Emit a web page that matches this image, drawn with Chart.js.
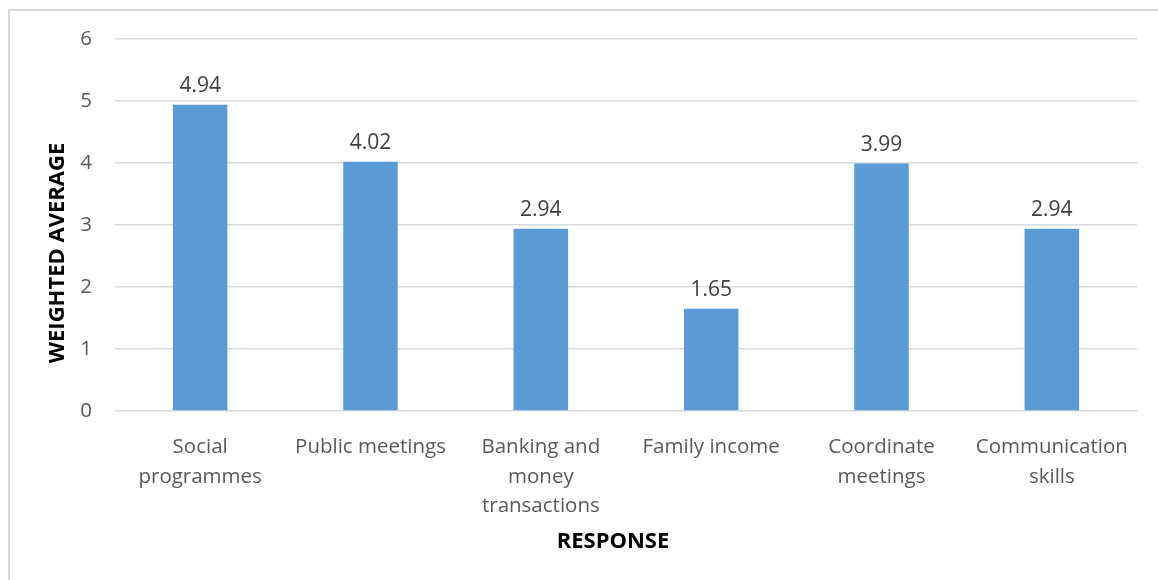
<!DOCTYPE html>
<html lang="en">
  <head>
    <meta charset="utf-8">
    <title>Weighted average by response</title>
    <style>
      html, body { margin: 0; padding: 0; background: #fff; overflow: hidden; }
      #frame { position: absolute; left: 8px; top: 9px; width: 1200px; height: 620px; border: 2px solid #d9d9d9; }
      #wrap { position: absolute; left: 0; top: 0; width: 1158px; height: 580px; }
    </style>
  </head>
  <body>
    <div id="frame"></div>
    <div id="wrap"><canvas id="myChart" width="1158" height="580"></canvas></div>

    <script src="https://cdn.jsdelivr.net/npm/chart.js@4.4.0/dist/chart.umd.min.js"></script>
    <script>
      const categories = [
        ['Social', 'programmes'],
        ['Public meetings'],
        ['Banking and', 'money', 'transactions'],
        ['Family income'],
        ['Coordinate', 'meetings'],
        ['Communication', 'skills']
      ];
      const weightedAverage = [4.94, 4.02, 2.94, 1.65, 3.99, 2.94];
      const yTicks = [0, 1, 2, 3, 4, 5, 6];
      const xTitle = 'RESPONSE';
      const yTitle = 'WEIGHTED AVERAGE';

      // value labels over each bar
      const barValues = {
        id: 'barValues',
        afterDatasetsDraw(chart) {
          const ctx = chart.ctx;
          ctx.save();
          ctx.font = '21px "Open Sans"';
          ctx.fillStyle = '#404040';
          ctx.textAlign = 'center';
          ctx.textBaseline = 'alphabetic';
          chart.getDatasetMeta(0).data.forEach((bar, i) => {
            ctx.fillText(weightedAverage[i].toFixed(2), bar.x, bar.y - 13);
          });
          ctx.restore();
        }
      };

      // axis titles, drawn by hand so they can sit where the old chart had them
      const axisTitles = {
        id: 'axisTitles',
        afterDraw(chart) {
          const ctx = chart.ctx;
          ctx.save();
          ctx.font = 'bold 22px "Open Sans"';
          ctx.fillStyle = '#000';
          ctx.textAlign = 'center';
          ctx.textBaseline = 'middle';
          ctx.fillText(xTitle, 613, 542);
          ctx.translate(58, 253);
          ctx.rotate(-Math.PI / 2);
          ctx.fillText(yTitle, 0, 0);
          ctx.restore();
        }
      };

      const ctx = document.getElementById('myChart').getContext('2d');
      const chart = new Chart(ctx, {
        type: 'bar',
        data: {
          labels: categories,
          datasets: [{
            data: weightedAverage,
            backgroundColor: '#5b9bd5',
            barPercentage: 0.32,
            categoryPercentage: 1
          }]
        },
        options: {
          responsive: false,
          animation: false,
          layout: { padding: { left: 0, right: 21, top: 39, bottom: 0 } },
          plugins: { legend: { display: false }, tooltip: { enabled: false } },
          scales: {
            x: {
              afterFit(axis) { axis.height = 169; },
              grid: { display: false },
              border: { display: false },
              ticks: {
                color: '#595959',
                font: { family: 'Open Sans', size: 20.5, lineHeight: 1.42 },
                maxRotation: 0,
                autoSkip: false,
                padding: 14
              }
            },
            y: {
              min: 0,
              max: 6,
              afterFit(axis) { axis.width = 115; },
              afterBuildTicks(axis) { axis.ticks = yTicks.map(v => ({ value: v })); },
              grid: { color: '#d9d9d9', lineWidth: 1.5, drawTicks: false },
              border: { display: false },
              ticks: {
                color: '#595959',
                font: { family: 'Open Sans', size: 20.5 },
                padding: 23
              }
            }
          }
        },
        plugins: [barValues, axisTitles]
      });
    </script>
  </body>
</html>
